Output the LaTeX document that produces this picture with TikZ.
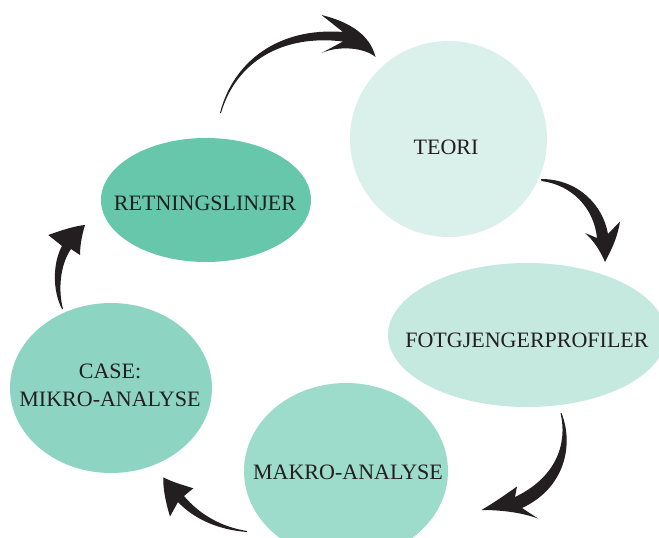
\documentclass[tikz,border=0pt]{standalone}
\usepackage{fontspec}
\setmainfont{Liberation Serif}
\usetikzlibrary{shapes.geometric}
\definecolor{cTeori}{HTML}{DAF0EA}
\definecolor{cRet}{HTML}{66C7AA}
\definecolor{cFot}{HTML}{C5E9DF}
\definecolor{cCase}{HTML}{8DD5C2}
\definecolor{cMakro}{HTML}{9DDCCB}
\definecolor{ink}{HTML}{231F20}
\tikzset{
  blob/.style={ellipse, inner sep=0pt, draw=none},
  lbl/.style={font=\fontsize{22}{28}\selectfont, text=ink, inner sep=0pt, align=center},
  swoosh/.style={fill=ink, draw=none}
}
\begin{document}
\begin{tikzpicture}[x=1pt,y=-1pt]
\useasboundingbox (0,0) rectangle (659,538);
\clip (0,0) rectangle (659,538);
\fill[white] (0,0) rectangle (659,538);
% shapes
\node[blob, fill=cTeori, minimum width=197pt, minimum height=196pt] (teori) at (448.5,139) {};
\node[blob, fill=cRet, minimum width=210pt, minimum height=124pt] (ret) at (206,200) {};
\node[blob, fill=cFot, minimum width=278pt, minimum height=144pt] (fot) at (527,335) {};
\node[blob, fill=cCase, minimum width=202pt, minimum height=170pt] (case) at (111,388) {};
\node[blob, fill=cMakro, minimum width=204pt, minimum height=176pt] (makro) at (346,471) {};
% labels
\node[lbl] (teoriT) at (446,147) {TEORI};
\node[lbl] (retT) at (205,203) {RETNINGSLINJER};
\node[lbl] (fotT) at (527,340) {FOTGJENGERPROFILER};
\node[lbl] (caseT) at (110,385) {CASE:\\MIKRO-ANALYSE};
\node[lbl] (makroT) at (348,472) {MAKRO-ANALYSE};
% arrows
\fill[swoosh] (220,113) .. controls (233,62) and (278,27) .. (343,32) -- (321.5,15)
  .. controls (350,22) and (370,35) .. (375.5,57)
  .. controls (365,48) and (340,45) .. (321.5,53) -- (343,41.5)
  .. controls (282,34) and (236,62) .. (221,113) -- cycle;
\fill[swoosh] (541,179) .. controls (578,179) and (603,205) .. (608,234) -- (620,221.5)
  .. controls (617,240) and (610,252) .. (605,262)
  .. controls (600,250) and (593,240) .. (585,233) -- (597,238)
  .. controls (594,208) and (572,185) .. (541.5,181) -- cycle;
\fill[swoosh] (561.5,413) .. controls (574,445) and (565,488) .. (522,508) -- (538,518.5)
  .. controls (520,512) and (500,510) .. (481.5,510)
  .. controls (495,502) and (505,495) .. (517,486.5) -- (515,497)
  .. controls (555,478) and (568,445) .. (560.5,413) -- cycle;
\fill[swoosh] (247,532) .. controls (220,530) and (195,520) .. (178,502) -- (170,516.5)
  .. controls (165,500) and (163,488) .. (163.3,477.3)
  .. controls (172,482) and (183,485) .. (193.3,488.3) -- (184,496)
  .. controls (200,515) and (222,527) .. (247,531) -- cycle;
\fill[swoosh] (62,309) .. controls (52,290) and (53,262) .. (62,246) -- (48.3,235)
  .. controls (62,230) and (75,226) .. (85,225)
  .. controls (82,235) and (80,245) .. (80,255) -- (71,249)
  .. controls (60,265) and (58,290) .. (63,309) -- cycle;
\end{tikzpicture}
\end{document}
